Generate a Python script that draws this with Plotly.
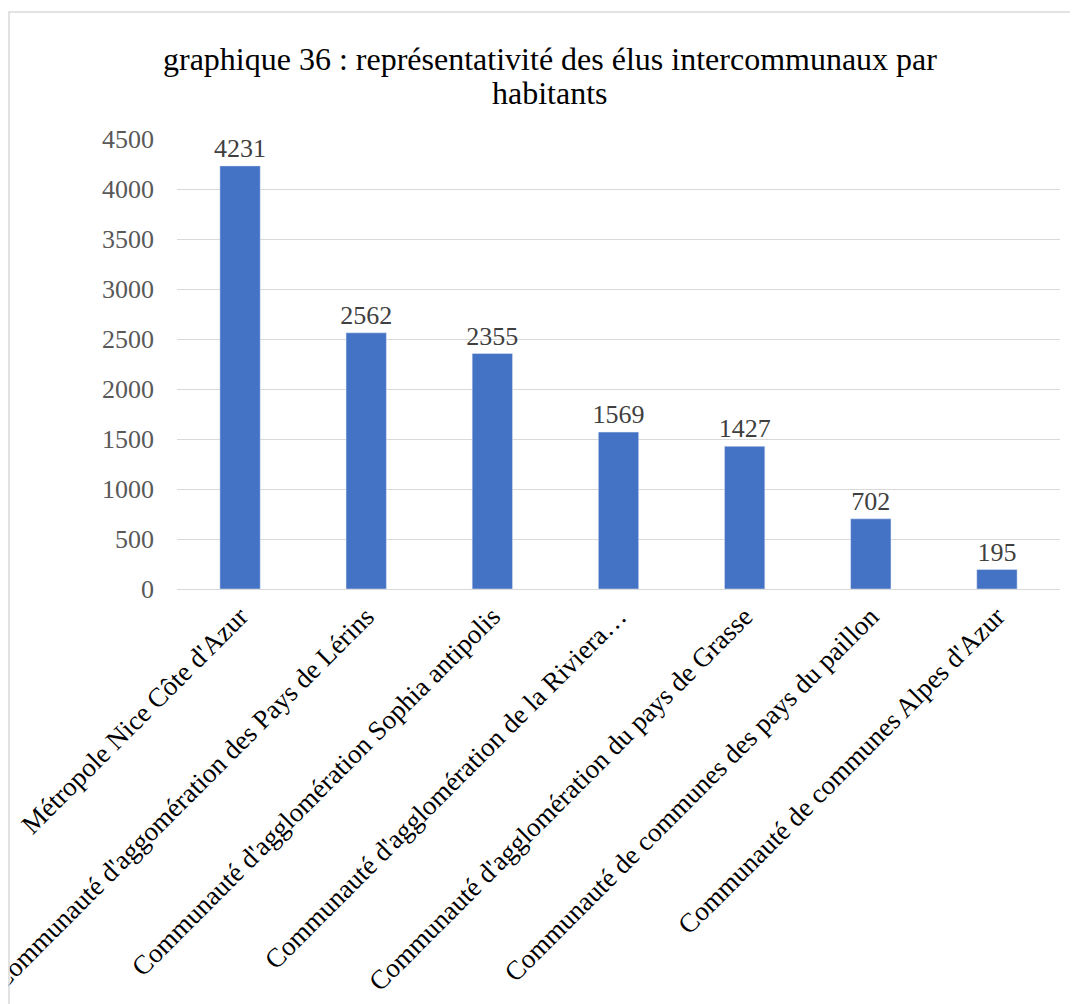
import plotly.graph_objects as go

categories = [
    "Métropole Nice Côte d'Azur",
    "Communauté d'aggomération des Pays de Lérins",
    "Communauté d'agglomération Sophia antipolis",
    "Communauté d'agglomération de la Riviera…",
    "Communauté d'agglomération du pays de Grasse",
    "Communauté de communes des pays du paillon",
    "Communauté de communes Alpes d'Azur",
]
values = [4231, 2562, 2355, 1569, 1427, 702, 195]
y_ticks = [0, 500, 1000, 1500, 2000, 2500, 3000, 3500, 4000, 4500]
title_lines = ["graphique 36 : représentativité des élus intercommunaux par", "habitants"]

W, H = 1070, 996
L, R, T, B = 169, 18, 131, 415
pw, ph = W - L - R, H - T - B

font = "Liberation Serif, Times New Roman, serif"

fig = go.Figure(go.Bar(
    x=categories, y=values,
    marker_color="#4472C4",
    text=[str(v) for v in values],
    textposition="outside",
    constraintext="none",
    textfont=dict(family=font, size=26, color="#404040"),
    cliponaxis=False,
))

# chart border (cut on right / bottom)
bx = (1 - L) / pw
by = (T + ph - 4) / ph
fig.add_shape(type="path", xref="paper", yref="paper",
              path=f"M {bx} {-(B + 5)/ph} L {bx} {by} L {(W - L + 5)/pw} {by}",
              line=dict(color="#D9D9D9", width=1.5))

# title as two lines with tight spacing
for i, line in enumerate(title_lines):
    cy = 51 + 34 * i
    fig.add_annotation(
        text=line, showarrow=False,
        xref="paper", yref="paper",
        x=(542 - L) / pw, y=(T + ph - cy) / ph,
        xanchor="center", yanchor="middle",
        font=dict(family=font, size=32, color="#000000"),
    )

fig.update_layout(
    width=W, height=H,
    margin=dict(l=L, r=R, t=T, b=B, autoexpand=False),
    paper_bgcolor="white", plot_bgcolor="white",
    bargap=0.68,
    showlegend=False,
    xaxis=dict(
        tickangle=-45,
        tickfont=dict(family=font, size=27, color="#000000"),
        showline=True, linecolor="#D9D9D9", linewidth=1,
        ticks="",
    ),
    yaxis=dict(
        range=[0, 4500],
        tickvals=y_ticks,
        tickfont=dict(family=font, size=26, color="#595959"),
        showgrid=True, gridcolor="#D9D9D9", gridwidth=1,
        zeroline=False, showline=False,
        ticklabelstandoff=22,
    ),
)

fig.write_html("out.html")
